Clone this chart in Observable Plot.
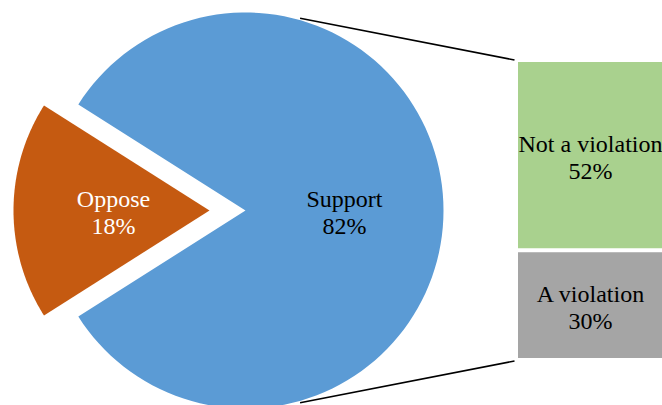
<!DOCTYPE html>
<html>
<head>
<meta charset="utf-8">
<script src="https://cdn.jsdelivr.net/npm/d3@7"></script>
<script src="https://cdn.jsdelivr.net/npm/@observablehq/plot@0.6"></script>
<style>
  html, body { margin: 0; padding: 0; background: #fff; }
  g[aria-label="oppose-label"] text { text-shadow: 1px 1px 2px rgba(0,0,0,0.55); }
</style>
</head>
<body>
<div id="chart"></div>
<script>
// ---- data ----
const pieCategories = ["Support", "Oppose"];
const pieValues = [82, 18];
const pieColors = ["#5B9BD5", "#C55A11"];
const pieLabelColors = ["#000000", "#ffffff"];

const barCategories = ["Not a violation", "A violation"];
const barValues = [52, 30];
const barColors = ["#A9D18E", "#A5A5A5"];

// ---- layout ----
const W = 662, H = 405;
const cx = 245, cy = 210, R = 198, explode = 36;
const barX1 = 518, barX2 = 662, barTop = 60, barBottom = 360;
const font = "'Liberation Serif', 'Times New Roman', serif";

// pie angles (d3 convention: 0 = up, clockwise); Oppose centred on the left
const oppFrac = pieValues[1] / d3.sum(pieValues);
const start = (1.5 + oppFrac) * Math.PI; // end of Oppose slice
const arcs = d3.pie().sort(null).startAngle(start).endAngle(start + 2 * Math.PI)(pieValues);

const slicePts = arcs.map((a, i) => {
  const mid = (a.startAngle + a.endAngle) / 2;
  const off = i === 1 ? explode : 0;
  const rr = i === 1 ? R - 2 : R;
  const ox = cx + off * Math.sin(mid), oy = cy - off * Math.cos(mid);
  const pts = [{x: ox, y: oy}];
  const N = 120;
  for (let k = 0; k <= N; k++) {
    const t = a.startAngle + (a.endAngle - a.startAngle) * k / N;
    pts.push({x: ox + rr * Math.sin(t), y: oy - rr * Math.cos(t)});
  }
  pts.push({x: ox, y: oy});
  return pts;
});

const pieLabels = arcs.map((a, i) => {
  const mid = (a.startAngle + a.endAngle) / 2;
  const off = i === 1 ? explode : 0;
  const r = off + R * (i === 1 ? 0.485 : 0.5);
  return {
    x: cx + r * Math.sin(mid),
    y: cy - r * Math.cos(mid) + 1,
    text: `${pieCategories[i]}\n${pieValues[i]}%`,
    color: pieLabelColors[i]
  };
});

// stacked bar
const unit = (barBottom - barTop) / d3.sum(barValues);
let acc = 0;
const barRows = barValues.map((v, i) => {
  const y1 = barTop + acc * unit;
  acc += v;
  const y2 = barTop + acc * unit;
  return {x1: barX1, x2: barX2, y1, y2, fill: barColors[i],
          text: `${barCategories[i]}\n${v}%`};
});

// connector lines (from pie rim to bar corners)
const connAngle = 16 * Math.PI / 180;
const links = [
  {x1: cx + R * Math.sin(connAngle), y1: cy - R * Math.cos(connAngle) - 2, x2: barX1 - 4, y2: barTop - 0.5},
  {x1: cx + R * Math.sin(Math.PI - connAngle), y1: cy - R * Math.cos(Math.PI - connAngle) + 2, x2: barX1 - 4, y2: barBottom + 0.5}
];

const marks = [];
slicePts.forEach((pts, i) => {
  marks.push(Plot.line(pts, {x: "x", y: "y", fill: pieColors[i], stroke: "none", curve: "linear"}));
});
marks.push(Plot.rect(barRows, {x1: "x1", x2: "x2", y1: "y1", y2: "y2", fill: "fill", insetTop: 2, insetBottom: 2}));
marks.push(Plot.link(links, {x1: "x1", y1: "y1", x2: "x2", y2: "y2", stroke: "#000", strokeWidth: 1.6}));
marks.push(Plot.text(pieLabels.filter((d, i) => i === 0), {x: "x", y: "y", text: "text", fill: "#000",
  fontSize: 24, lineHeight: 1.13, fontFamily: font}));
marks.push(Plot.text(pieLabels.filter((d, i) => i === 1), {x: "x", y: "y", text: "text", fill: "#fff",
  fontSize: 24, lineHeight: 1.13, fontFamily: font, ariaLabel: "oppose-label"}));
marks.push(Plot.text(barRows, {x: d => (d.x1 + d.x2) / 2, y: d => (d.y1 + d.y2) / 2 + 1, text: "text", fill: "#000",
  fontSize: 24, lineHeight: 1.13, fontFamily: font}));

const chart = Plot.plot({
  width: W, height: H,
  margin: 0,
  x: {type: "linear", domain: [0, W], range: [0, W], axis: null},
  y: {type: "linear", domain: [0, H], range: [0, H], axis: null},
  color: {type: "identity"},
  style: {background: "#fff", fontFamily: font, overflow: "hidden"},
  marks
});
document.getElementById("chart").appendChild(chart);
</script>
</body>
</html>
